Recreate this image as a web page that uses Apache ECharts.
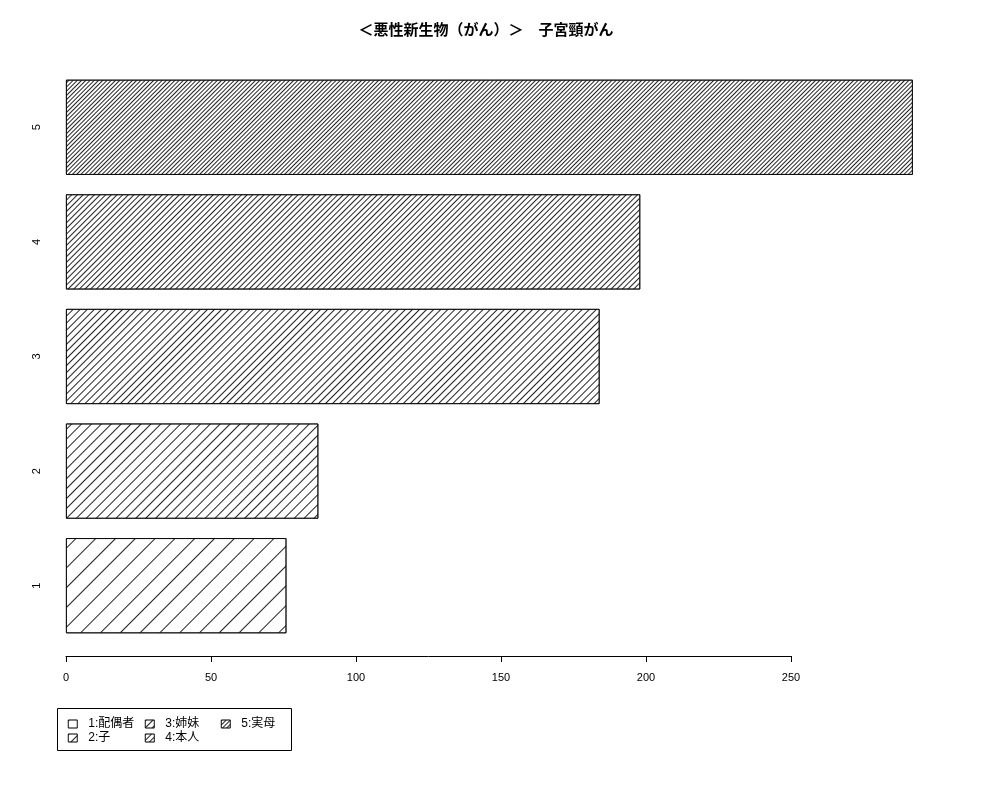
<!DOCTYPE html>
<html><head><meta charset="utf-8">
<script src="https://cdn.jsdelivr.net/npm/echarts@6/dist/echarts.min.js"></script>
<style>html,body{margin:0;padding:0;background:#fff}#c{width:1000px;height:800px}</style>
</head><body><div id="c"></div>
<script>
const titleText = '＜悪性新生物（がん）＞　子宮頸がん';
const categories = ['1', '2', '3', '4', '5'];
const seriesNames = ['1:配偶者', '2:子', '3:姉妹', '4:本人', '5:実母'];
const values = [76, 87, 184, 198, 292];
const xTicks = [0, 50, 100, 150, 200, 250];

const gaps = [13, 6, 3.7, 2.5, 1.8];
const FONT = '"Liberation Sans", "Noto Sans CJK JP", sans-serif';

const chart = echarts.init(document.getElementById('c'), null, {renderer: 'canvas'});

const series = seriesNames.map((name, i) => ({
  name: name,
  type: 'bar',
  stack: 'all',
  xAxisIndex: 0,
  yAxisIndex: 0,
  barCategoryGap: '17%',
  data: categories.map((c, j) => j === i ? values[i] : null),
  itemStyle: {
    color: '#fff',
    borderColor: '#000',
    borderWidth: 0.8,
    decal: {
      symbol: 'rect',
      symbolSize: 1,
      color: '#222',
      dashArrayX: [1, 0],
      dashArrayY: [1, gaps[i]],
      rotation: -Math.PI / 4
    }
  },
  emphasis: {disabled: true},
  silent: true
}));

function legendCol(names, left) {
  return {
    orient: 'vertical',
    left: left,
    top: 718,
    data: names,
    itemWidth: 9,
    itemHeight: 8,
    itemGap: 2,
    icon: 'rect',
    padding: 0,
    itemStyle: {borderWidth: 0.6},
    textStyle: {fontFamily: FONT, fontSize: 12, color: '#000', padding: [0, 0, 0, 6]},
    selectedMode: false
  };
}

chart.setOption({
  animation: false,
  backgroundColor: '#fff',
  title: {
    text: titleText,
    left: 481,
    textAlign: 'center',
    top: 18,
    textStyle: {fontFamily: FONT, fontSize: 15, fontWeight: 'bold', color: '#000'}
  },
  legend: [
    legendCol([seriesNames[0], seriesNames[1]], 68),
    legendCol([seriesNames[2], seriesNames[3]], 145),
    legendCol([seriesNames[4]], 221)
  ],
  graphic: [{
    type: 'rect',
    shape: {x: 57.5, y: 708.5, width: 234, height: 42},
    style: {fill: 'none', stroke: '#000', lineWidth: 1},
    silent: true
  }],
  grid: [
    {left: 66, width: 870, top: 70, height: 573},
    {left: 66, width: 725, top: 70, height: 586}
  ],
  xAxis: [
    {gridIndex: 0, type: 'value', min: 0, max: 300, show: false},
    {gridIndex: 1, type: 'value', min: 0, max: 250, interval: 50,
     position: 'bottom',
     axisLine: {show: true, lineStyle: {color: '#000', width: 1}},
     axisTick: {show: true, length: 6, lineStyle: {color: '#000'}},
     splitLine: {show: false},
     axisLabel: {fontFamily: FONT, fontSize: 11, color: '#000', margin: 16,
                 customValues: xTicks}
    }
  ],
  yAxis: [
    {gridIndex: 0, type: 'category', data: categories,
     axisLine: {show: false}, axisTick: {show: false},
     axisLabel: {rotate: 90, fontFamily: FONT, fontSize: 11, color: '#000', margin: 24}
    },
    {gridIndex: 1, type: 'value', min: 0, max: 1, show: false}
  ],
  series: series.concat([{
    type: 'scatter', xAxisIndex: 1, yAxisIndex: 1, data: [], silent: true
  }])
});
</script>
</body></html>
